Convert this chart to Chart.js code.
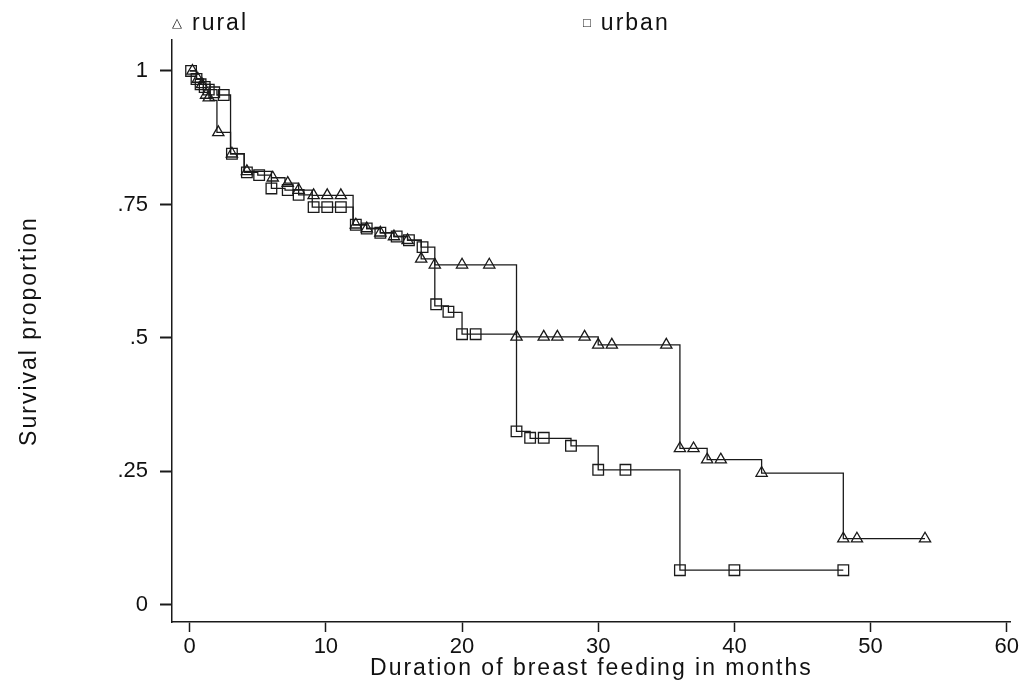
<!DOCTYPE html>
<html>
<head>
<meta charset="utf-8">
<script src="https://cdn.jsdelivr.net/npm/chart.js@4"></script>
<style>
  body { margin: 0; background: #fff; }
  #wrap { position: relative; width: 1021px; height: 684px; }
  .key { position: absolute; top: 9px; font: 23px "Liberation Sans", Arial, sans-serif; letter-spacing: 2px; line-height: 26px; color: #111; }
  .key span { font-size: 13px; margin-right: 10px; position: relative; top: -3px; letter-spacing: 0; }
</style>
</head>
<body>
<div id="wrap">
  <canvas id="myChart" width="1021" height="684"></canvas>
  <div class="key" style="left:172px"><span>△</span>rural</div>
  <div class="key" style="left:583px"><span>□</span>urban</div>
</div>
<script>
// step curves (time in months, survival after that time)
const ruralTime = [0, 0.5, 0.8, 1.0, 1.5, 2, 3, 4, 6, 7, 8, 9, 12, 13, 14, 15, 16, 17, 18, 24, 30, 36, 38, 42, 48, 54];
const ruralSurv = [1, 0.985, 0.975, 0.965, 0.945, 0.885, 0.845, 0.812, 0.80, 0.79, 0.777, 0.767, 0.712, 0.705, 0.697, 0.69, 0.683, 0.648, 0.637, 0.502, 0.487, 0.293, 0.272, 0.247, 0.124, 0.124];

const urbanTime = [0, 0.5, 1, 1.5, 2, 3, 4, 5, 6, 7, 8, 9, 12, 13, 14, 15, 16, 17, 18, 19, 20, 24, 25, 28, 30, 36, 48];
const urbanSurv = [1, 0.985, 0.975, 0.965, 0.955, 0.845, 0.81, 0.805, 0.78, 0.777, 0.768, 0.745, 0.712, 0.705, 0.697, 0.69, 0.683, 0.67, 0.56, 0.548, 0.507, 0.325, 0.312, 0.298, 0.253, 0.065, 0.065];

// markers
const ruralMarkX = [0.2, 0.6, 0.9, 1.2, 1.4, 2.1, 3.1, 4.2, 6.1, 7.2, 8, 9.1, 10.1, 11.1, 12.2, 13, 14, 15, 16, 17, 18, 20, 22, 24, 26, 27, 29, 30, 31, 35, 36, 37, 38, 39, 42, 48, 49, 54];
const ruralMarkY = [1.0, 0.985, 0.975, 0.955, 0.95, 0.885, 0.845, 0.812, 0.80, 0.79, 0.777, 0.767, 0.767, 0.767, 0.712, 0.705, 0.697, 0.69, 0.683, 0.648, 0.637, 0.637, 0.637, 0.502, 0.502, 0.502, 0.502, 0.487, 0.487, 0.487, 0.293, 0.293, 0.272, 0.272, 0.247, 0.124, 0.124, 0.124];

const urbanMarkX = [0.1, 0.5, 0.8, 1.1, 1.4, 1.8, 2.5, 3.1, 4.2, 5.1, 6, 7.2, 8, 9.1, 10.1, 11.1, 12.2, 13, 14, 15.2, 16.1, 17.1, 18.1, 19, 20, 21, 24, 25, 26, 28, 30, 32, 36, 40, 48];
const urbanMarkY = [1.0, 0.985, 0.975, 0.97, 0.965, 0.96, 0.955, 0.845, 0.81, 0.805, 0.78, 0.777, 0.768, 0.745, 0.745, 0.745, 0.712, 0.705, 0.697, 0.69, 0.683, 0.67, 0.563, 0.549, 0.507, 0.507, 0.325, 0.313, 0.313, 0.298, 0.253, 0.253, 0.065, 0.065, 0.065];

const xTicks = [0, 10, 20, 30, 40, 50, 60];
const yTicks = [0, 0.25, 0.5, 0.75, 1];
const yTickLabels = ['0', '.25', '.5', '.75', '1'];

const ink = '#1a1a1a';
const pts = (xs, ys) => xs.map((x, i) => ({ x: x, y: ys[i] }));

// the axis titles in the original are spread out, give them some letter spacing
const spacedTitles = {
    id: 'spacedTitles',
    beforeDraw(chart) {
        for (const id of ['x', 'y']) {
            const s = chart.scales[id];
            if (s._spaced) continue;
            const orig = s.drawTitle;
            s.drawTitle = function () {
                const ctx = this.ctx;
                ctx.letterSpacing = '2px';
                orig.apply(this, arguments);
                ctx.letterSpacing = '0px';
            };
            s._spaced = true;
        }
    }
};

new Chart(document.getElementById('myChart').getContext('2d'), {
    type: 'scatter',
    data: {
        datasets: [
            { data: pts(ruralTime, ruralSurv), showLine: true, stepped: 'before', pointRadius: 0, borderColor: ink, borderWidth: 1.3 },
            { data: pts(urbanTime, urbanSurv), showLine: true, stepped: 'before', pointRadius: 0, borderColor: ink, borderWidth: 1.3 },
            { data: pts(ruralMarkX, ruralMarkY), pointStyle: 'triangle', pointRadius: 6.5, borderColor: ink, borderWidth: 1.3, backgroundColor: 'rgba(0,0,0,0)' },
            { data: pts(urbanMarkX, urbanMarkY), pointStyle: 'rect', pointRadius: 7.5, borderColor: ink, borderWidth: 1.3, backgroundColor: 'rgba(0,0,0,0)' }
        ]
    },
    plugins: [spacedTitles],
    options: {
        responsive: false,
        animation: false,
        layout: { padding: { top: 40, right: 8, left: 0, bottom: 0 } },
        plugins: { legend: { display: false }, tooltip: { enabled: false } },
        scales: {
            x: {
                min: -1.3, max: 60.3,
                afterBuildTicks: s => { s.ticks = xTicks.map(v => ({ value: v })); },
                afterFit: s => { s.height = 62; },
                grid: { drawOnChartArea: false, tickLength: 10, tickWidth: 1.5, color: ink },
                border: { color: ink, width: 1.5 },
                ticks: { color: '#111', padding: 2, maxRotation: 0, font: { family: 'Liberation Sans', size: 22 } },
                title: { display: true, text: 'Duration of breast feeding in months', color: '#111', padding: { top: 0, bottom: 2 }, font: { family: 'Liberation Sans', size: 23 } }
            },
            y: {
                min: -0.032, max: 1.058,
                afterBuildTicks: s => { s.ticks = yTicks.map(v => ({ value: v })); },
                afterFit: s => { s.width = 172; },
                grid: { drawOnChartArea: false, tickLength: 12, tickWidth: 2, color: ink },
                border: { color: ink, width: 1.5 },
                ticks: { color: '#111', padding: 12, font: { family: 'Liberation Sans', size: 22 },
                    callback: v => yTickLabels[yTicks.indexOf(v)] },
                title: { display: true, text: 'Survival proportion', color: '#111', padding: { top: 16, bottom: 0 }, font: { family: 'Liberation Sans', size: 23 } }
            }
        }
    }
});
</script>
</body>
</html>
